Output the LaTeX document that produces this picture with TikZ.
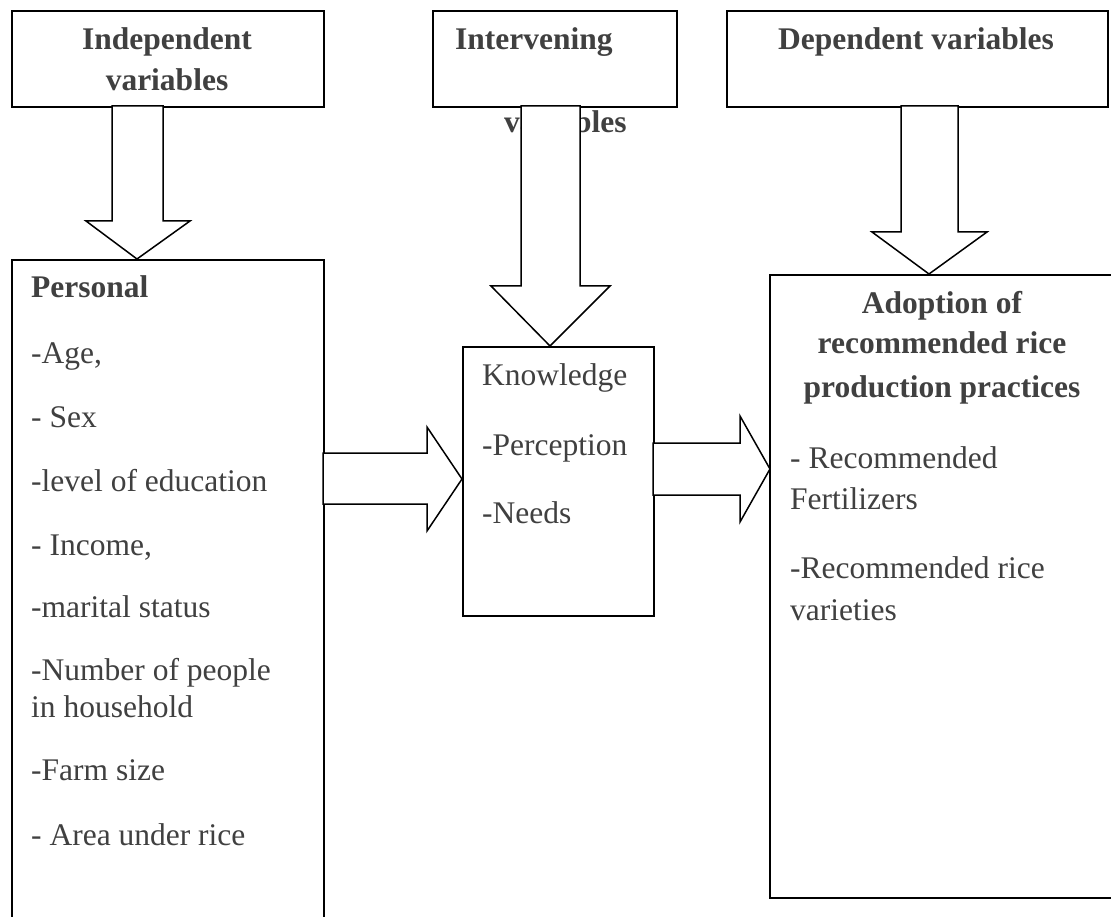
\documentclass[tikz,border=0pt]{standalone}
\usepackage{fontspec}
\setmainfont{Liberation Serif}
\definecolor{txt}{RGB}{64,64,64}
\begin{document}
\begin{tikzpicture}[x=1pt,y=-1pt,
  box/.style={draw=black,line width=1.8pt,fill=white,rectangle,inner sep=0pt,anchor=north west},
  lbl/.style={inner sep=0pt,text=txt,font=\fontsize{31.5}{37}\selectfont},
  hd/.style={lbl,font=\fontsize{31.5}{37}\selectfont\bfseries},
  blockarrow/.style={draw=black,line width=1.5pt,fill=white,line join=miter}]
\useasboundingbox (0,0) rectangle (1111,917);
\clip (0,0) rectangle (1111,917);
% boxes
\node[box,minimum width=312pt,minimum height=96pt] (ind) at (11,10) {};
\node[box,minimum width=244pt,minimum height=96pt] (intv) at (432,10) {};
\node[box,minimum width=381pt,minimum height=96pt] (dep) at (726,10) {};
\node[box,minimum width=312pt,minimum height=700pt] (pers) at (11,259) {};
\node[box,minimum width=191pt,minimum height=269pt] (know) at (462,346) {};
\node[box,minimum width=361pt,minimum height=623pt] (adop) at (769,274) {};
% headings
\node[hd,anchor=base] (t1a) at (167,50) {Independent};
\node[hd,anchor=base] (t1b) at (167,91) {variables};
\node[hd,anchor=base west] (t2a) at (455,50) {Intervening};
\node[hd,anchor=base west] (t2b) at (504,133) {variables};
\node[hd,anchor=base] (t3a) at (916,50) {Dependent variables};
% personal
\node[hd,anchor=base west] (p0) at (31,298) {Personal};
\node[lbl,anchor=base west] (p1) at (31,363) {-Age,};
\node[lbl,anchor=base west] (p2) at (31,427) {- Sex};
\node[lbl,anchor=base west] (p3) at (31,491) {-level of education};
\node[lbl,anchor=base west] (p4) at (31,555) {- Income,};
\node[lbl,anchor=base west] (p5) at (31,617) {-marital status};
\node[lbl,anchor=base west] (p6) at (31,680) {-Number of people};
\node[lbl,anchor=base west] (p7) at (31,717) {in household};
\node[lbl,anchor=base west] (p8) at (31,780) {-Farm size};
\node[lbl,anchor=base west] (p9) at (31,845) {- Area under rice};
% knowledge
\node[lbl,anchor=base west] (k1) at (482,385) {Knowledge};
\node[lbl,anchor=base west] (k2) at (482,455) {-Perception};
\node[lbl,anchor=base west] (k3) at (482,523) {-Needs};
% adoption
\node[hd,anchor=base] (a1) at (942,313) {Adoption of};
\node[hd,anchor=base] (a2) at (942,353) {recommended rice};
\node[hd,anchor=base] (a3) at (942,397) {production practices};
\node[lbl,anchor=base west] (a4) at (790,468) {- Recommended};
\node[lbl,anchor=base west] (a5) at (790,509) {Fertilizers};
\node[lbl,anchor=base west] (a6) at (790,578) {-Recommended rice};
\node[lbl,anchor=base west] (a7) at (790,620) {varieties};
% block arrows
\draw[blockarrow] (112,106) -- (112,221) -- (86,221) -- (137,259) -- (190,221) -- (163,221) -- (163,106) -- cycle;
\draw[blockarrow] (521,106) -- (521,286) -- (491,286) -- (550,346) -- (610,286) -- (580,286) -- (580,106) -- cycle;
\draw[blockarrow] (901,106) -- (901,232) -- (872,232) -- (929,274) -- (987,232) -- (958,232) -- (958,106) -- cycle;
\draw[blockarrow] (323,453) -- (427,453) -- (427,427) -- (462,479) -- (427,531) -- (427,504) -- (323,504) -- cycle;
\draw[blockarrow] (653,443) -- (740,443) -- (740,416) -- (770,469) -- (740,522) -- (740,495) -- (653,495) -- cycle;
\end{tikzpicture}
\end{document}
